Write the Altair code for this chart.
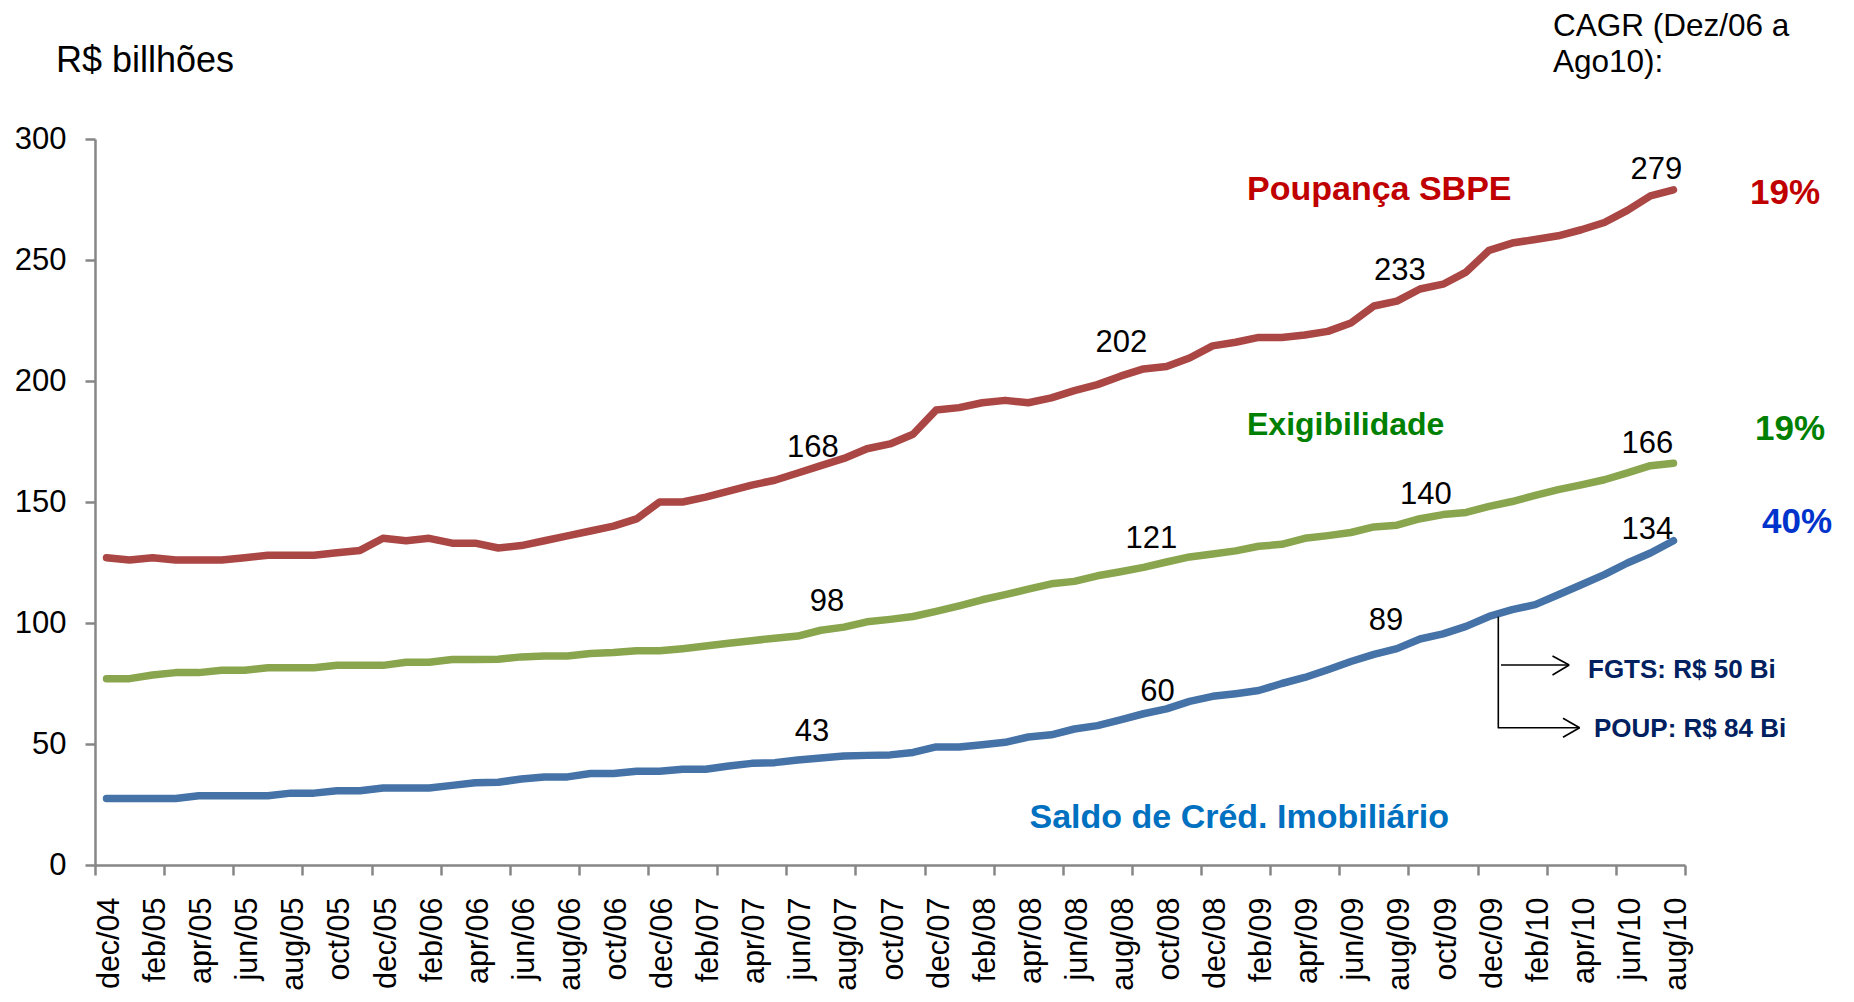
import json
import altair as alt
import pandas as pd

# ---------------- data ----------------
months = [
    "dec/04", "jan/05", "feb/05", "mar/05", "apr/05", "may/05", "jun/05", "jul/05", "aug/05", "sep/05", "oct/05", "nov/05",
    "dec/05", "jan/06", "feb/06", "mar/06", "apr/06", "may/06", "jun/06", "jul/06", "aug/06", "sep/06", "oct/06", "nov/06",
    "dec/06", "jan/07", "feb/07", "mar/07", "apr/07", "may/07", "jun/07", "jul/07", "aug/07", "sep/07", "oct/07", "nov/07",
    "dec/07", "jan/08", "feb/08", "mar/08", "apr/08", "may/08", "jun/08", "jul/08", "aug/08", "sep/08", "oct/08", "nov/08",
    "dec/08", "jan/09", "feb/09", "mar/09", "apr/09", "may/09", "jun/09", "jul/09", "aug/09", "sep/09", "oct/09", "nov/09",
    "dec/09", "jan/10", "feb/10", "mar/10", "apr/10", "may/10", "jun/10", "jul/10", "aug/10",
]

poupanca = [
    127, 126, 127, 126, 126, 126, 127, 128, 128, 128, 129, 130,
    135, 134, 135, 133, 133, 131, 132, 134, 136, 138, 140, 143,
    150, 150, 152, 154.5, 157, 159, 162, 165, 168, 172, 174, 178,
    188, 189, 191, 192, 191, 193, 196, 198.5, 202, 205, 206, 209.5,
    214.5, 216, 218, 218, 219, 220.5, 224, 231, 233, 238, 240, 245,
    254, 257, 258.5, 260, 262.5, 265.5, 270.5, 276.5, 279,
]
exigibilidade = [
    77, 77, 78.5, 79.5, 79.5, 80.5, 80.5, 81.5, 81.5, 81.5, 82.5, 82.5,
    82.5, 83.8, 83.8, 84.9, 84.9, 85, 86, 86.4, 86.4, 87.4, 87.8, 88.5,
    88.5, 89.4, 90.5, 91.6, 92.7, 93.7, 94.6, 97, 98.3, 100.5, 101.5, 102.7,
    104.8, 107.1, 109.6, 111.7, 114, 116.2, 117.2, 119.5, 121.2, 123, 125.2, 127.3,
    128.5, 129.8, 131.7, 132.5, 135, 136.1, 137.4, 139.7, 140.4, 143.1, 144.8, 145.7,
    148.2, 150.2, 152.7, 155.1, 157.1, 159.2, 162, 165, 166,
]
saldo = [
    27.5, 27.5, 27.5, 27.5, 28.6, 28.6, 28.6, 28.6, 29.7, 29.7, 30.7, 30.7,
    31.8, 31.8, 31.8, 32.9, 34, 34.2, 35.5, 36.4, 36.4, 37.8, 37.8, 38.7,
    38.7, 39.6, 39.6, 40.9, 42, 42.3, 43.4, 44.2, 45, 45.3, 45.5, 46.5,
    48.8, 48.8, 49.7, 50.7, 52.9, 53.8, 56.2, 57.6, 60, 62.5, 64.5, 67.6,
    69.7, 70.8, 72.1, 75, 77.5, 80.7, 84.1, 87, 89.4, 93.4, 95.5, 98.6,
    102.7, 105.5, 107.6, 111.7, 115.8, 120, 124.8, 128.9, 134,
]

series_names = ["Poupança SBPE", "Exigibilidade", "Saldo de Créd. Imobiliário"]
series_values = [poupanca, exigibilidade, saldo]
line_colors = ["#AA4643", "#89A54E", "#4572A7"]

y_ticks = [0, 50, 100, 150, 200, 250, 300]
label_months = list(range(0, 69, 2))
tick_positions = [-0.5 + 3 * k for k in range(24)]

# data labels: series, month index, printed text
value_labels = [
    ("Poupança SBPE", 32, "168"), ("Poupança SBPE", 44, "202"),
    ("Poupança SBPE", 56, "233"), ("Poupança SBPE", 68, "279"),
    ("Exigibilidade", 32, "98"), ("Exigibilidade", 44, "121"),
    ("Exigibilidade", 56, "140"), ("Exigibilidade", 68, "166"),
    ("Saldo de Créd. Imobiliário", 32, "43"), ("Saldo de Créd. Imobiliário", 44, "60"),
    ("Saldo de Créd. Imobiliário", 56, "89"), ("Saldo de Créd. Imobiliário", 68, "134"),
]
# pixel offsets of each label from its point (style)
label_offsets = [
    (-31, -10), (1, -33), (3, -30), (-17, -20),
    (-17, -25), (31, -33), (29, -30), (-26, -19),
    (-32, -24), (37, -28), (-11, -28), (-26, -11),
]

# ---------------- tables ----------------
rows = []
for name, vals in zip(series_names, series_values):
    for i, v in enumerate(vals):
        rows.append({"idx": i, "month": months[i], "series": name, "value": v})
long_df = pd.DataFrame(rows)

FONT = "Liberation Sans"
GRAY = "#868686"
W, H = 1590, 726

x_scale = alt.Scale(domain=[-0.5, 68.5], nice=False, zero=False)
y_scale = alt.Scale(domain=[0, 300], nice=False, zero=True)

axis_labels = alt.Axis(
    orient="bottom", values=label_months,
    labelExpr=json.dumps(months) + "[datum.value]",
    labelAngle=270, labelFont=FONT, labelFontSize=30.5, labelColor="black",
    labelPadding=22, labelOffset=3, labelOverlap=False, labelFlush=False, labelBound=False,
    ticks=True, tickSize=10, tickOpacity=0,
    domain=True, domainColor=GRAY, domainWidth=2.5,
    grid=False, title=None,
)
axis_ticks = alt.Axis(
    orient="bottom", values=tick_positions, labels=False,
    ticks=True, tickSize=10, tickColor=GRAY, tickWidth=2.5,
    domain=False, grid=False, title=None,
)
y_axis = alt.Axis(
    orient="left", values=y_ticks, labelFont=FONT, labelFontSize=31, labelColor="black",
    labelPadding=19, ticks=True, tickSize=10, tickColor=GRAY, tickWidth=2.5,
    domain=True, domainColor=GRAY, domainWidth=2.5, grid=False, title=None,
)

lines = alt.Chart(long_df).mark_line(
    strokeWidth=7.5, strokeCap="round", strokeJoin="round"
).encode(
    x=alt.X("idx:Q", scale=x_scale, axis=axis_labels),
    y=alt.Y("value:Q", scale=y_scale, axis=y_axis),
    color=alt.Color("series:N", scale=alt.Scale(domain=series_names, range=line_colors), legend=None),
    order=alt.Order("idx:Q"),
)

tick_layer = alt.Chart(long_df).mark_point(opacity=0, size=1).encode(
    x=alt.X("idx:Q", scale=x_scale, axis=axis_ticks),
    y=alt.Y("value:Q", scale=y_scale, axis=None),
)

layers = [lines, tick_layer]

# value labels anchored on the series points
for (name, m, txt), (dx, dy) in zip(value_labels, label_offsets):
    vals = series_values[series_names.index(name)]
    d = pd.DataFrame({"idx": [m], "value": [vals[m]], "txt": [txt]})
    layers.append(
        alt.Chart(d).mark_text(
            font=FONT, fontSize=31, color="black", align="center", baseline="middle",
            dx=dx, dy=dy,
        ).encode(
            x=alt.X("idx:Q", scale=x_scale, axis=None),
            y=alt.Y("value:Q", scale=y_scale, axis=None),
            text="txt:N",
        )
    )

one = alt.Data(values=[{}])


def note(text, x, y, size, color="black", weight="normal", align="left"):
    return alt.Chart(one).mark_text(
        font=FONT, fontSize=size, color=color, fontWeight=weight,
        align=align, baseline="alphabetic",
    ).encode(x=alt.value(x), y=alt.value(y), text=alt.value(text))


def seg(x1, y1, x2, y2):
    return alt.Chart(one).mark_rule(color="black", strokeWidth=1.6).encode(
        x=alt.value(x1), x2=alt.value(x2), y=alt.value(y1), y2=alt.value(y2)
    )


layers += [
    note("R$ billhões", -39, -67, 36),
    note("CAGR (Dez/06 a", 1458, -103, 31.5),
    note("Ago10):", 1458, -67, 31.5),
    note("Poupança SBPE", 1152, 61, 34, "#C00000", "bold"),
    note("Exigibilidade", 1152, 296, 32, "#008000", "bold"),
    note("Saldo de Créd. Imobiliário", 934.5, 689, 34, "#0070C0", "bold"),
    note("19%", 1655, 64.5, 35, "#C00000", "bold"),
    note("19%", 1660, 301, 35, "#008000", "bold"),
    note("40%", 1667, 394, 35, "#0033CC", "bold"),
    note("FGTS: R$ 50 Bi", 1493, 539, 26, "#002060", "bold"),
    note("POUP: R$ 84 Bi", 1499, 598, 26, "#002060", "bold"),
    # bracket and arrows
    seg(1403.3, 477.7, 1403.3, 589.3),
    seg(1406, 526, 1474, 526),
    seg(1457.5, 517, 1474.2, 526),
    seg(1457.5, 536, 1474.2, 526),
    seg(1403.3, 588.7, 1484.6, 588.7),
    seg(1468, 579.3, 1484.6, 588.7),
    seg(1468, 598.3, 1484.6, 588.7),
]

chart = alt.layer(*layers).resolve_axis(x="independent", y="independent").properties(
    width=W, height=H,
    autosize=alt.AutoSizeParams(type="none"),
    padding={"left": 87, "top": 131, "right": 161, "bottom": 129},
).configure(
    background="white",
    view=alt.ViewConfig(stroke=None),
)

chart.save("out.html", embed_options={"renderer": "svg", "actions": False})
